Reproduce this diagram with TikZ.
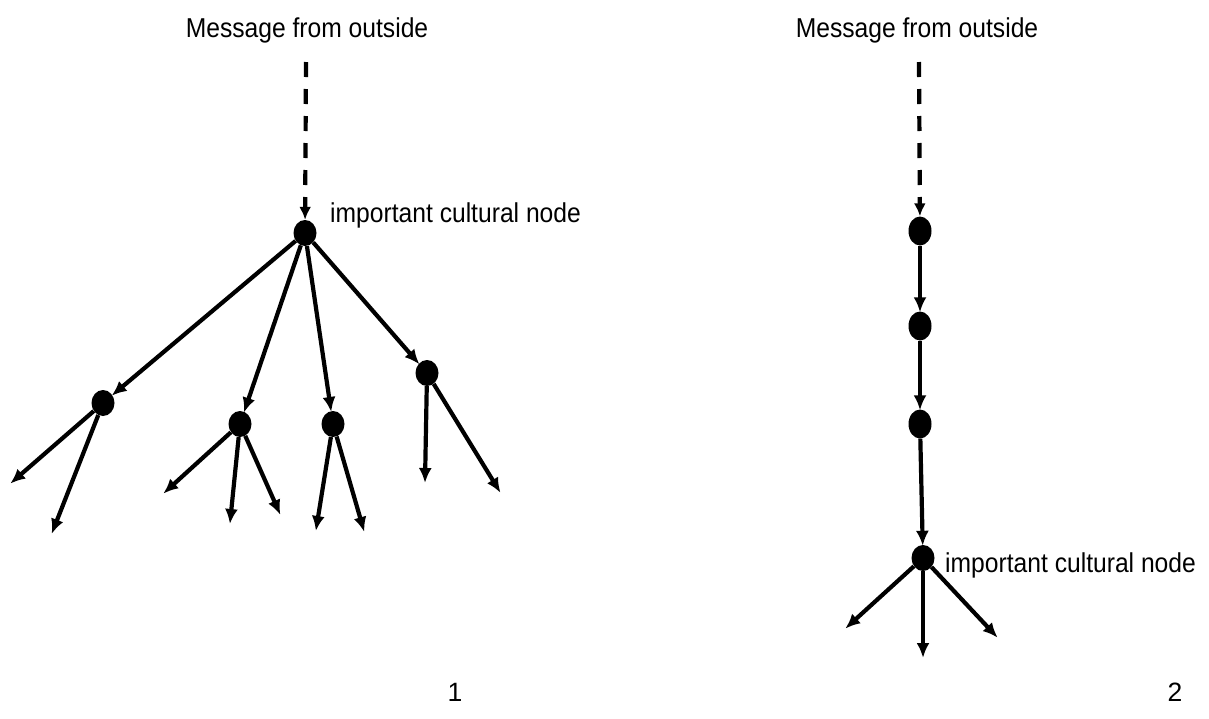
\documentclass[tikz,border=0pt]{standalone}
\usepackage{fontspec}
\usepackage{graphicx}
\setmainfont{Liberation Sans}
\usetikzlibrary{arrows.meta,shapes.geometric}
\newcommand{\narrowtext}[1]{\scalebox{0.93}[1.03]{#1}}
\begin{document}
\begin{tikzpicture}[x=1pt,y=-1pt,
  dot/.style={ellipse,fill=black,draw=none,inner sep=0pt,minimum width=23pt,minimum height=26pt},
  tall/.style={dot,minimum width=23pt,minimum height=29pt},
  link/.style={line width=4.2pt,-{Latex[length=15pt,width=13pt]},shorten >=-1pt},
  feed/.style={line width=4.2pt,dash pattern=on 15pt off 12pt,-{Latex[length=13pt,width=12pt]}},
  lbl/.style={font=\fontsize{26.5}{30}\selectfont,inner sep=0pt}]
\useasboundingbox (0,0) rectangle (1209,718);

% ---- tree 1: one central node spreading to many branches ----
\node[lbl,anchor=base] (m1) at (307,37) {\narrowtext{Message from outside}};
\coordinate (f1) at (306,62);
\node[dot] (r) at (305,233) {};
\node[lbl,anchor=base west] (c1) at (330,222) {\narrowtext{important cultural node}};
\draw[feed] (f1) -- (r);

\node[dot] (a) at (103,403) {};
\node[dot] (b) at (240,424) {};
\node[dot] (c) at (333,424) {};
\node[dot] (d) at (427,373) {};
\foreach \n in {a,b,c,d} \draw[link] (r) -- (\n);

\coordinate (a1) at (11,483);
\coordinate (a2) at (52,533);
\coordinate (b1) at (164,493);
\coordinate (b2) at (230,523);
\coordinate (b3) at (280,514);
\coordinate (c1e) at (316,530);
\coordinate (c2e) at (364,531);
\coordinate (d1) at (425,482);
\coordinate (d2) at (500,492);
\draw[link] (a) -- (a1);
\draw[link] (a) -- (a2);
\draw[link] (b) -- (b1);
\draw[link] (b) -- (b2);
\draw[link] (b) -- (b3);
\draw[link] (c) -- (c1e);
\draw[link] (c) -- (c2e);
\draw[link] (d) -- (d1);
\draw[link] (d) -- (d2);

\node[lbl,anchor=base] (n1) at (455,701) {1};

% ---- tree 2: a chain reaching the central node late ----
\node[lbl,anchor=base] (m2) at (917,37) {\narrowtext{Message from outside}};
\coordinate (f2) at (919,62);
\node[tall] (p) at (920,231) {};
\node[tall] (q) at (920,326) {};
\node[tall] (s) at (920,424) {};
\node[dot] (t) at (923,558) {};
\node[lbl,anchor=base west] (c2) at (945,572) {\narrowtext{important cultural node}};
\draw[feed] (f2) -- (p);
\draw[link] (p) -- (q);
\draw[link] (q) -- (s);
\draw[link] (s) -- (t);

\coordinate (t1) at (846,628);
\coordinate (t2) at (923,657);
\coordinate (t3) at (997,637);
\draw[link] (t) -- (t1);
\draw[link] (t) -- (t2);
\draw[link] (t) -- (t3);

\node[lbl,anchor=base] (n2) at (1175,701) {2};
\end{tikzpicture}
\end{document}
